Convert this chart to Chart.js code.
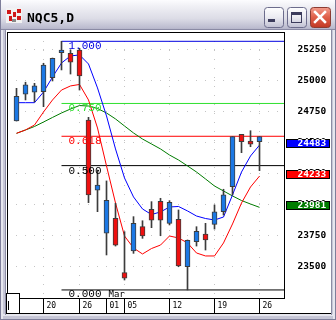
<!DOCTYPE html>
<html>
<head>
<meta charset="utf-8">
<script src="https://cdn.jsdelivr.net/npm/chart.js@4.4.1/dist/chart.umd.min.js"></script>
<style>
  html, body { margin: 0; padding: 0; background: #fff; }
</style>
</head>
<body>
<canvas id="c" width="336" height="320"></canvas>
<script>
// data
const title = 'NQC5,D';
const dateLabels = ['', '', '', '20', '', '', '', '26', '', '', '01', '', '05', '', '',
                    '', '', '12', '', '', '', '', '19', '', '', '', '', '26'];
const monthLabel = 'Mar';
const monthIdx = 10;

const opens  = [24677, 24893, 24909, 24914, 25027, 25228, 25223, 25250, 24685, 24119, 23772, 23893, 23454, 23629,
                23825, 23965, 24030, 23852, 23885, 23502, 23704, 23766, 23844, 23946, 24148, 24570, 24516, 24510];
const highs  = [24941, 24990, 24981, 25143, 25185, 25320, 25250, 25264, 24707, 24282, 24194, 24014, 23785, 23906,
                23873, 24027, 24054, 24035, 23960, 23718, 23825, 23852, 24000, 24127, 24551, 24570, 24599, 24551];
const lows   = [24677, 24847, 24831, 24793, 25000, 25089, 25056, 24927, 24019, 23946, 23597, 23669, 23395, 23610,
                23731, 23817, 23752, 23839, 23502, 23315, 23669, 23637, 23806, 23919, 24081, 24422, 24470, 24277];
const closes = [24877, 24968, 24960, 25129, 25183, 25250, 25151, 25040, 24081, 24161, 24038, 23677, 23409, 23852,
                23750, 23877, 23877, 24022, 23508, 23715, 23788, 23718, 23944, 24081, 24551, 24510, 24490, 24551];

const maFast = [24825, 24825, 24825, 24911, 25032, 25145, 25202, 25210, 25137, 24944, 24718, 24452, 24218, 24065,
                23968, 23923, 23944, 23984, 23988, 23952, 23911, 23891, 23879, 23903, 24081, 24266, 24395, 24483];
const maMid  = [24578, 24605, 24645, 24750, 24847, 24927, 24960, 24972, 24847, 24621, 24315, 24016, 23750, 23653,
                23605, 23649, 23677, 23750, 23734, 23694, 23613, 23589, 23589, 23694, 23847, 24016, 24145, 24233];
const maSlow = [24578, 24605, 24633, 24669, 24706, 24742, 24774, 24802, 24798, 24778, 24742, 24694, 24637, 24581,
                24532, 24492, 24452, 24403, 24363, 24315, 24266, 24210, 24153, 24113, 24073, 24036, 24008, 23981];

const fibHigh = 25320;
const fibLow = 23315;
const fibStartIdx = 5;
const fibRatios = [1, 0.75, 0.618, 0.5, 0];
const fibText = ['1.000', '0.750', '0.618', '0.500', '0.000'];

const priceTicks = [23500, 23750, 24000, 24250, 24500, 24750, 25000, 25250];

// scale window
const xMin = -1.056, xMax = 29.722;
const yMin = 23250, yMax = 25395;

const BLUE = '#0000ff', RED = '#ff0000', GREEN = '#007c00';
const fibColors = ['#0000e0', '#2ee02e', '#ff0000', '#000000', '#000000'];
const MONO = '"DejaVu Sans Mono", monospace';

const pts = arr => arr.map((v, i) => ({ x: i, y: v }));
const tickIdx = dateLabels.map((l, i) => l ? i : -1).filter(i => i >= 0);

const fibSets = fibRatios.map((r, k) => {
    const lvl = fibLow + r * (fibHigh - fibLow);
    return {
        type: 'line', order: 6,
        data: [{ x: fibStartIdx, y: lvl }, { x: xMax, y: lvl }],
        borderColor: fibColors[k], borderWidth: 1, pointRadius: 0
    };
});

function maSet(arr, color) {
    return { type: 'line', order: 5, data: pts(arr), borderColor: color, borderWidth: 1,
             pointRadius: 0, tension: 0 };
}

// window frame + title bar
function roundRect(c, x, y, w, h, r) {
    c.beginPath();
    c.moveTo(x + r, y);
    c.arcTo(x + w, y, x + w, y + h, r);
    c.arcTo(x + w, y + h, x, y + h, r);
    c.arcTo(x, y + h, x, y, r);
    c.arcTo(x, y, x + w, y, r);
    c.closePath();
}

function button(c, x, y, w, h, red) {
    const g = c.createLinearGradient(0, y, 0, y + h);
    if (red) {
        g.addColorStop(0, '#f4a090'); g.addColorStop(0.5, '#e0604a'); g.addColorStop(1, '#c33a26');
    } else {
        g.addColorStop(0, '#ffffff'); g.addColorStop(0.5, '#ececf2'); g.addColorStop(1, '#c2c2d4');
    }
    roundRect(c, x + 0.5, y + 0.5, w, h, 3);
    c.fillStyle = g; c.fill();
    c.strokeStyle = red ? '#8c3c32' : '#6c6c8c'; c.lineWidth = 1; c.stroke();
}

const chrome = {
    id: 'chrome',
    beforeDraw(chart) {
        const c = chart.ctx;
        c.save();
        c.fillStyle = '#c6c6d6'; c.fillRect(0, 0, 336, 320);
        const g = c.createLinearGradient(0, 0, 0, 31);
        g.addColorStop(0, '#fcfcfe'); g.addColorStop(0.2, '#f0f0f5');
        g.addColorStop(0.6, '#dcdce6'); g.addColorStop(0.9, '#bcbccf'); g.addColorStop(1, '#a6a6be');
        c.fillStyle = g; c.fillRect(0, 0, 336, 30);
        c.fillStyle = '#8a8aa4'; c.fillRect(0, 29, 336, 1);
        // side and bottom bands
        c.fillStyle = '#7e7e9a'; c.fillRect(0, 0, 1, 320); c.fillRect(335, 0, 1, 320); c.fillRect(0, 319, 336, 1);
        c.fillStyle = '#e6e6ee'; c.fillRect(1, 30, 2, 289); c.fillRect(333, 30, 2, 289); c.fillRect(1, 314, 334, 2);
        c.fillStyle = '#8c8ca4'; c.fillRect(5, 30, 1, 285); c.fillRect(331, 30, 1, 285);
        c.fillStyle = '#fff'; c.fillRect(6, 30, 325, 283);
        c.fillStyle = '#000'; c.fillRect(6, 313, 325, 1);
        // icon
        c.fillStyle = '#f2f2f2'; c.fillRect(6, 8, 16, 15);
        c.fillStyle = '#d01818';
        c.fillRect(7, 10, 4, 4); c.fillRect(13, 12, 3, 5); c.fillRect(17, 9, 4, 4); c.fillRect(9, 16, 3, 5); c.fillRect(17, 16, 4, 4);
        c.fillStyle = '#888'; c.fillRect(12, 19, 4, 3);
        // title
        c.fillStyle = '#000'; c.font = 'bold 13px ' + MONO; c.textBaseline = 'alphabetic';
        c.fillText(title, 27, 21.5);
        // buttons
        button(c, 264, 7, 19, 20, false);
        button(c, 287, 7, 19, 20, false);
        button(c, 310, 7, 20, 20, true);
        c.fillStyle = '#3c3c5c'; c.fillRect(268, 19, 7, 3);
        c.strokeStyle = '#3c3c5c'; c.lineWidth = 1; c.strokeRect(291.5, 12.5, 10, 10);
        c.fillRect(291, 12, 11, 3);
        c.strokeStyle = '#fff'; c.lineWidth = 2.5; c.lineCap = 'square';
        c.beginPath(); c.moveTo(315, 12); c.lineTo(325, 22); c.moveTo(325, 12); c.lineTo(315, 22); c.stroke();
        c.restore();
    },
    afterDraw(chart) {
        const c = chart.ctx, a = chart.chartArea;
        const xs = chart.scales.x, ys = chart.scales.y;
        c.save();
        // plot frame
        c.strokeStyle = '#000'; c.lineWidth = 1;
        c.strokeRect(a.left + 0.5, a.top + 0.5, a.right - a.left, a.bottom - a.top);
        // fib labels
        c.font = '11px "Liberation Mono", monospace'; c.textBaseline = 'alphabetic'; c.textAlign = 'left';
        const fx = xs.getPixelForValue(fibStartIdx) + 7;
        fibRatios.forEach((r, k) => {
            const py = ys.getPixelForValue(fibLow + r * (fibHigh - fibLow));
            c.fillStyle = fibColors[k];
            c.fillText(fibText[k], fx, Math.min(py + 8, 297));
        });
        // month label
        c.fillStyle = '#000'; c.font = '9px ' + MONO;
        c.fillText(monthLabel, xs.getPixelForValue(monthIdx) + 2, 297);
        // scroll box bottom-left
        c.fillStyle = '#fff'; c.fillRect(7, 294, 12, 19);
        c.strokeRect(6.5, 293.5, 13, 20);
        c.fillRect(8, 301, 1, 9);
        c.fillStyle = '#000'; c.fillRect(8, 301, 1, 9);
        // last-value boxes
        [[maFast, BLUE], [maMid, RED], [maSlow, GREEN]].forEach(([arr, col]) => {
            const v = arr[arr.length - 1];
            const top = Math.round(ys.getPixelForValue(v)) - 6;
            c.fillStyle = col; c.fillRect(286, top, 44, 9);
            c.strokeStyle = '#000'; c.strokeRect(286.5, top + 0.5, 43, 8);
            c.fillStyle = '#fff'; c.font = 'bold 9.5px ' + MONO; c.textBaseline = 'middle';
            c.fillText(String(v), 297.5, top + 4.5);
        });
        c.restore();
    }
};

new Chart(document.getElementById('c'), {
    type: 'bar',
    data: {
        datasets: [
            ...fibSets,
            maSet(maFast, BLUE),
            maSet(maMid, RED),
            maSet(maSlow, GREEN),
            {
                type: 'bar', order: 2, grouped: false,
                data: lows.map((l, i) => ({ x: i, y: [l, highs[i]] })),
                backgroundColor: '#3c3c3c', barThickness: 1, borderWidth: 0
            },
            {
                type: 'bar', order: 1, grouped: false,
                data: opens.map((o, i) => ({ x: i, y: [o, closes[i]] })),
                backgroundColor: closes.map((cl, i) => cl >= opens[i] ? '#1c78e4' : '#ee1010'),
                borderColor: '#3c3c3c', borderWidth: 1, borderSkipped: false, barThickness: 5
            }
        ]
    },
    options: {
        responsive: false,
        animation: false,
        events: [],
        layout: { padding: { left: 7, top: 32, right: 0, bottom: 0 } },
        plugins: { legend: { display: false }, tooltip: { enabled: false } },
        scales: {
            x: {
                type: 'linear', min: xMin, max: xMax, offset: false,
                afterBuildTicks: s => { s.ticks = tickIdx.map(v => ({ value: v })); },
                afterFit: s => { s.height = 22; },
                border: { display: false, dash: [1, 8] },
                grid: {
                    offset: false,
                    color: ctx => (ctx.tick && ctx.tick.value === monthIdx) ? 'rgba(0,0,0,0)' : '#c4c4c4',
                    tickColor: '#000', tickLength: 15, tickWidth: 1, tickBorderDash: []
                },
                ticks: {
                    autoSkip: false, maxRotation: 0, align: 'start', labelOffset: 3, padding: -12,
                    color: '#000', font: { family: 'DejaVu Sans Mono', size: 8 },
                    callback: v => dateLabels[v] || ''
                }
            },
            y: {
                position: 'right', min: yMin, max: yMax,
                afterBuildTicks: s => { s.ticks = priceTicks.map(v => ({ value: v })); },
                afterFit: s => { s.width = 52; },
                border: { display: false, dash: [1, 8] },
                grid: { color: '#c4c4c4', drawTicks: false },
                ticks: {
                    padding: 13.5, color: '#000',
                    font: { family: 'DejaVu Sans Mono', size: 9.5, weight: 'bold' },
                    callback: v => String(v)
                }
            }
        }
    },
    plugins: [chrome]
});
</script>
</body>
</html>
